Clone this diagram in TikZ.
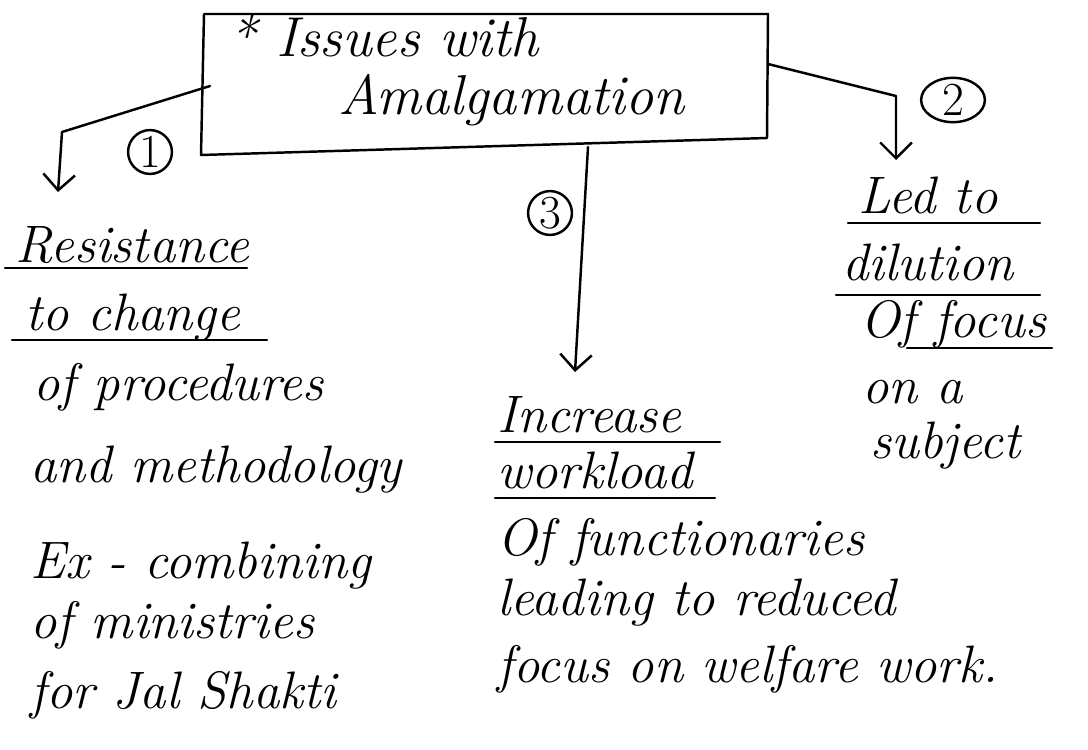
\documentclass[tikz,border=0pt]{standalone}
\usetikzlibrary{arrows.meta,shapes.geometric}
\begin{document}
\begin{tikzpicture}[x=0.02cm,y=-0.02cm,
  ink/.style={line width=1.4pt,line cap=round,line join=round},
  pointer/.style={ink,-{Straight Barb[length=9pt,width=18pt,line width=1.4pt]}},
  hand/.style={font=\fontsize{30}{33}\selectfont\itshape,inner sep=0pt,anchor=base west},
  title/.style={hand,font=\fontsize{32}{35}\selectfont\itshape},
  num/.style={draw,ink,circle,inner sep=0pt,minimum size=44*0.567pt,font=\fontsize{27}{28}\selectfont}
]
\useasboundingbox (0,0) rectangle (1088,750);

% title box
\draw[ink] (204,14) -- (768,14) -- (767,138) -- (201,155) -- cycle;
\node[title] (t1) at (228,57) {* Issues with};
\node[title] (t2) at (338,114) {Amalgamation};
\coordinate (boxL) at (210,86);
\coordinate (boxR) at (768,64);
\coordinate (boxB) at (588,147);

% branch 1
\coordinate (b1) at (62,132);
\coordinate (e1) at (58,192);
\draw[pointer] (boxL) -- (b1) -- (e1);
\node[num] (n1) at (150,152) {1};

% branch 2
\coordinate (b2) at (896,96);
\coordinate (e2) at (896,160);
\draw[pointer] (boxR) -- (b2) -- (e2);
\node[num,shape=ellipse,minimum width=64*0.567pt,minimum height=42*0.567pt] (n2) at (953,100) {2};

% branch 3
\coordinate (e3) at (575,372);
\draw[pointer] (boxB) -- (e3);
\node[num] (n3) at (550,213) {3};

% left column
\node[hand] (l1) at (15,262) {Resistance};
\node[hand] (l2) at (25,330) {to change};
\node[hand] (l3) at (33,400) {of procedures};
\node[hand] (l4) at (30,482) {and methodology};
\node[hand] (l5) at (30,578) {Ex - combining};
\node[hand] (l6) at (30,638) {of ministries};
\node[hand] (l7) at (30,708) {for Jal Shakti};
\draw[ink] (5,268) -- (247,268);
\draw[ink] (12,340) -- (267,340);

% middle column
\node[hand] (m1) at (497,432) {Increase};
\node[hand] (m2) at (497,488) {workload};
\node[hand] (m3) at (497,555) {Of functionaries};
\node[hand] (m4) at (497,615) {leading to reduced};
\node[hand] (m5) at (497,682) {focus on welfare work.};
\draw[ink] (495,442) -- (720,442);
\draw[ink] (495,498) -- (715,498);

% right column
\node[hand] (r1) at (858,213) {Led to};
\node[hand] (r2) at (842,280) {dilution};
\node[hand] (r3) at (860,337) {Of focus};
\node[hand] (r4) at (862,403) {on a};
\node[hand] (r5) at (870,458) {subject};
\draw[ink] (848,223) -- (1040,223);
\draw[ink] (836,295) -- (1040,295);
\draw[ink] (907,348) -- (1052,348);
\end{tikzpicture}
\end{document}
